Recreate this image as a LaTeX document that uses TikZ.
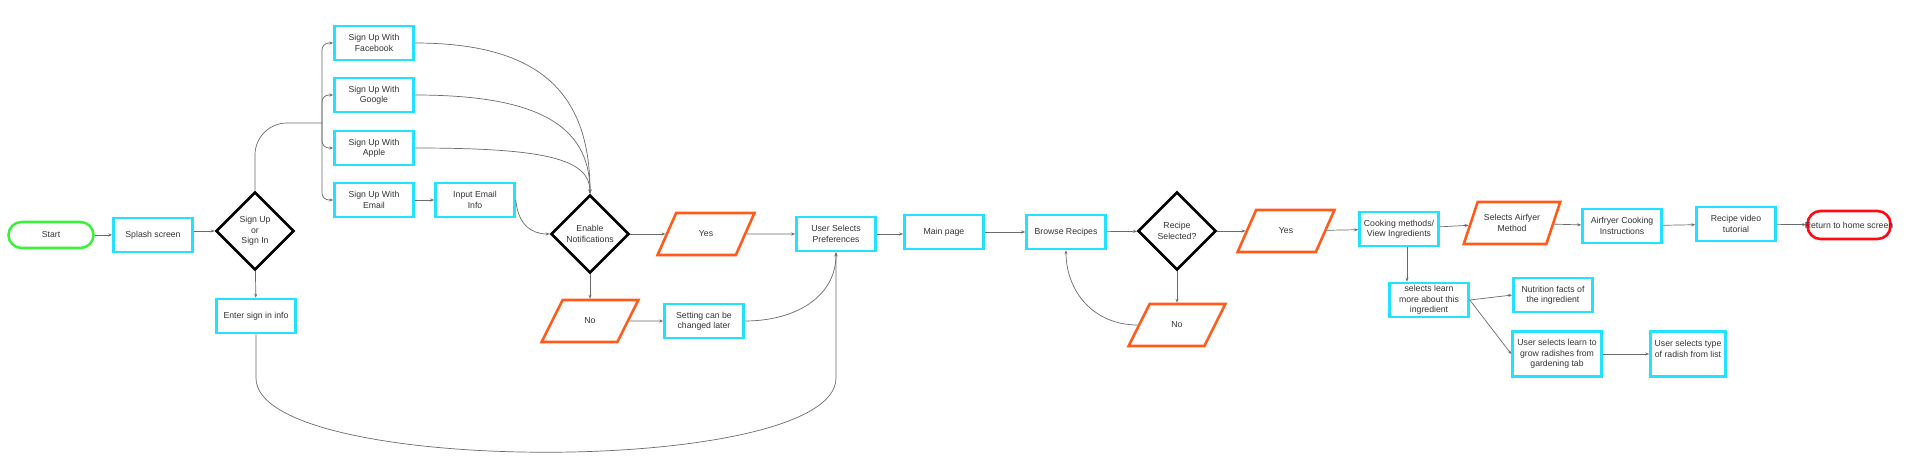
\documentclass[tikz,border=0pt]{standalone}
\usepackage{fontspec}
\setmainfont{Liberation Sans}
\usetikzlibrary{shapes.geometric,arrows.meta}
\definecolor{cy}{HTML}{22E2FF}
\definecolor{og}{HTML}{FF5C1C}
\definecolor{gr}{HTML}{3CF03C}
\definecolor{rd}{HTML}{FF0A14}
\definecolor{tx}{HTML}{333333}
\definecolor{ln}{HTML}{6A6A6A}
\begin{document}
\begin{tikzpicture}[x=1pt,y=1pt,
  base/.style={font=\fontsize{8.7}{10.4}\selectfont, text=tx, align=center, inner sep=1pt},
  box/.style={base, draw=cy, line width=2.6pt, minimum width=79pt, minimum height=34pt},
  dia/.style={base, diamond, draw=black, line width=2.6pt, minimum width=78pt, minimum height=78pt, aspect=1, line join=miter, inner sep=0pt},
  para/.style={base, trapezium, trapezium left angle=58, trapezium right angle=122, trapezium stretches=true, draw=og, line width=2.6pt, minimum width=97pt, minimum height=42pt},
  term/.style={base, rectangle, rounded corners=13pt, line width=2.6pt},
  con/.style={draw=ln, line width=0.7pt},
  arr/.style={con, -{Stealth[length=4pt,width=3pt]}}]
\useasboundingbox (0,0) rectangle (1909,-471);

\node[term, draw=gr, minimum width=85pt, minimum height=26pt] (start) at (51,-235) {Start};
\node[box] (splash) at (153,-235) {Splash screen};
\node[dia] (sign) at (255,-231) {Sign Up\\or\\Sign In};
\node[box] (enter) at (256,-316) {Enter sign in info};
\node[box] (fb) at (374,-43) {Sign Up With\\Facebook};
\node[box] (go) at (374,-95) {Sign Up With\\Google};
\node[box] (ap) at (374,-148) {Sign Up With\\Apple};
\node[box] (em) at (374,-200) {Sign Up With\\Email};
\node[box] (ie) at (475,-200) {Input Email\\Info};
\node[dia] (en) at (590,-234) {Enable\\Notifications};
\node[para] (no1) at (590,-321) {No};
\node[para] (yes1) at (706,-234) {Yes};
\node[box] (set) at (704,-321) {Setting can be\\changed later};
\node[box] (prefs) at (836,-234) {User Selects\\Preferences};
\node[box] (main) at (944,-232) {Main page};
\node[box] (browse) at (1066,-232) {Browse Recipes};
\node[dia] (recipe) at (1177,-231) {Recipe\\Selected?};
\node[para] (no2) at (1177,-325) {No};
\node[para] (yes2) at (1286,-231) {Yes};
\node[box] (cook) at (1399,-229) {Cooking methods/\\View Ingredients};
\node[para] (air) at (1512,-223) {Selects Airfyer\\Method};
\node[box] (inst) at (1622,-226) {Airfryer Cooking\\Instructions};
\node[box] (video) at (1736,-224) {Recipe video\\tutorial};
\node[term, draw=rd, minimum width=83pt, minimum height=28pt] (ret) at (1849,-225) {\makebox[0pt]{Return to home screen}};
\node[box] (learn) at (1429,-300) {selects learn\\more about this\\ingredient};
\node[box] (nut) at (1553,-295) {Nutrition facts of\\the ingredient};
\node[box, minimum width=89pt, minimum height=45pt] (grow) at (1557,-354) {User selects learn to\\grow radishes from\\gardening tab};
\node[box, minimum width=75pt, minimum height=45pt] (type) at (1688,-354) {User selects type\\of radish from list\\\mbox{}};

\coordinate (bus) at (322,-123);
\coordinate (e1) at (256,-378);
\coordinate (e2) at (836,-378);

\draw[arr] (start) -- (splash);
\draw[arr] (splash.east |- sign.west) -- (sign.west);
\draw[arr] (sign) -- (enter);
\draw[con, rounded corners=32pt] (sign.north) |- (bus);
\draw[arr, rounded corners=7pt] (bus) |- (fb.west);
\draw[arr, rounded corners=7pt] (bus) |- (go.west);
\draw[arr, rounded corners=7pt] (bus) |- (ap.west);
\draw[arr, rounded corners=7pt] (bus) |- (em.west);
\draw[arr] (fb.east) to[out=0,in=90,out distance=120pt,in distance=105pt] (en.north);
\draw[arr] (go.east) to[out=0,in=90,out distance=120pt,in distance=70pt] (en.north);
\draw[arr] (ap.east) to[out=0,in=90,out distance=130pt,in distance=35pt] (en.north);
\draw[arr] (em) -- (ie);
\draw[arr] (ie.east) to[out=-85,in=180,out distance=25pt,in distance=18pt] (en.west);
\draw[arr] (en) -- (yes1);
\draw[arr] (yes1) -- (prefs);
\draw[arr] (en) -- (no1);
\draw[arr] (no1) -- (set);
\draw[arr] (set.east) to[out=0,in=-90,out distance=50pt,in distance=45pt] (prefs.south);
\draw[arr] (enter.south) -- (e1) .. controls (256,-477) and (836,-477) .. (e2) -- (prefs.south);
\draw[arr] (prefs.east) -- (prefs.east -| main.west);
\draw[arr] (main) -- (browse);
\draw[arr] (browse) -- (recipe);
\draw[arr] (recipe) -- (yes2);
\draw[arr] (yes2) -- (cook);
\draw[arr] (recipe) -- (no2);
\draw[arr] (no2.west) to[out=180,in=-90,out distance=45pt,in distance=40pt] (browse.south);
\draw[arr] (cook) -- (air);
\draw[arr] (air) -- (inst);
\draw[arr] (inst) -- (video);
\draw[arr] (video) -- (ret);
\draw[arr] ([xshift=8pt]cook.south) -- ([xshift=8pt]cook.south |- learn.north);
\draw[arr] (learn.east) -- (nut.west);
\draw[arr] (learn.east) -- (grow.west);
\draw[arr] (grow) -- (type);
\end{tikzpicture}
\end{document}
